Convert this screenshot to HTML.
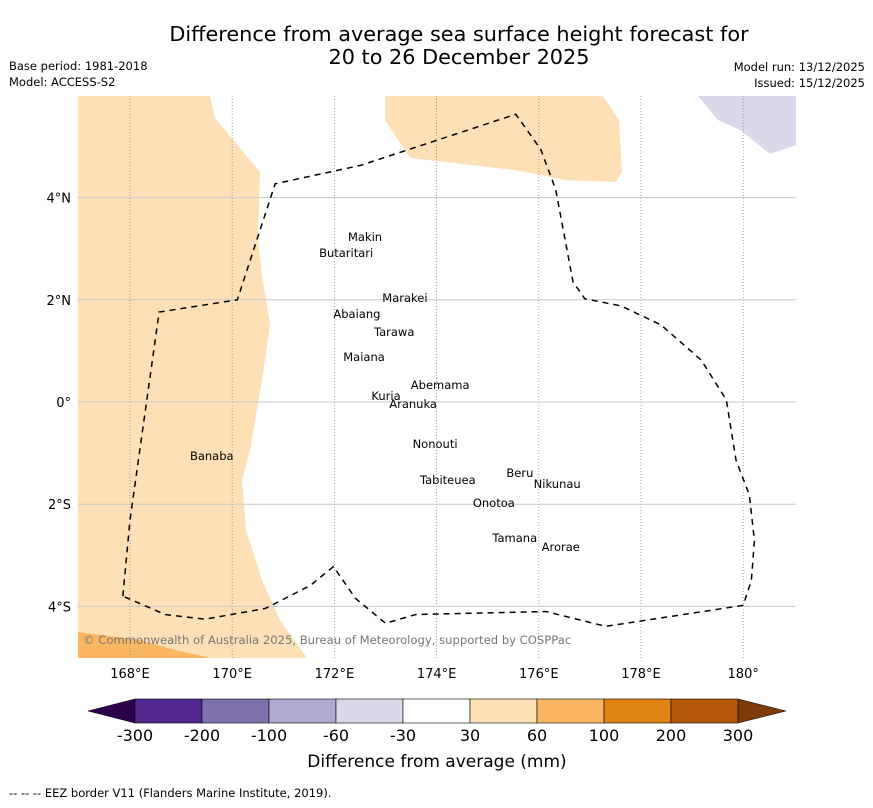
<!DOCTYPE html>
<html><head><meta charset="utf-8"><style>
body{margin:0;background:#fff;font-family:"DejaVu Sans","Liberation Sans",sans-serif;}
svg text{font-family:"DejaVu Sans","Liberation Sans",sans-serif;}
</style></head><body>
<svg id="map" width="873" height="804" viewBox="0 0 873 804" xmlns="http://www.w3.org/2000/svg">
<text x="459" y="41" text-anchor="middle" font-size="20.8">Difference from average sea surface height forecast for</text>
<text x="459" y="64" text-anchor="middle" font-size="20.8">20 to 26 December 2025</text>
<text x="9" y="70" font-size="11.5">Base period: 1981-2018</text>
<text x="9" y="86" font-size="11.5">Model: ACCESS-S2</text>
<text x="865" y="71" font-size="11.5" text-anchor="end">Model run: 13/12/2025</text>
<text x="865" y="87" font-size="11.5" text-anchor="end">Issued: 15/12/2025</text>
<g id="plot"></g>
<g id="cbar"></g>
<text x="437" y="767" text-anchor="middle" font-size="17">Difference from average (mm)</text>
<text x="9" y="797" font-size="11.5">--  --  -- EEZ border V11 (Flanders Marine Institute, 2019).</text>
</svg>
<script>
const NS="http://www.w3.org/2000/svg";
const lonTicks=[168,170,172,174,176,178,180];
const lonLabels=["168°E","170°E","172°E","174°E","176°E","178°E","180°"];
const latTicks=[4,2,0,-2,-4];
const latLabels=["4°N","2°N","0°","2°S","4°S"];
const eezLon=[167.86,168.0,168.57,170.10,170.84,172.51,175.55,176.04,176.33,176.67,176.90,177.61,178.39,179.18,179.67,179.86,180.12,180.22,180.16,180.0,177.31,176.14,173.59,173.0,172.41,171.98,171.53,170.65,169.47,168.69,167.86];
const eezLat=[-3.80,-2.31,1.76,2.0,4.27,4.63,5.63,4.94,4.16,2.35,2.02,1.88,1.51,0.82,0.04,-1.14,-1.82,-2.71,-3.49,-3.98,-4.39,-4.10,-4.16,-4.33,-3.84,-3.22,-3.59,-4.04,-4.25,-4.16,-3.80];
const islandNames=["Makin","Butaritari","Marakei","Abaiang","Tarawa","Maiana","Abemama","Kuria","Aranuka","Nonouti","Banaba","Beru","Nikunau","Tabiteuea","Onotoa","Tamana","Arorae"];
const islandLon=[172.60,172.23,173.38,172.44,173.17,172.58,174.07,173.01,173.54,173.97,169.60,175.63,176.36,174.22,175.12,175.53,176.43];
const islandLat=[3.23,2.92,2.04,1.72,1.37,0.88,0.33,0.12,-0.04,-0.82,-1.06,-1.39,-1.60,-1.53,-1.98,-2.66,-2.84];
const cbLabels=["-300","-200","-100","-60","-30","30","60","100","200","300"];
const cbColors=["#54278f","#7f71ab","#b0a9d0","#d9d9ea","#ffffff","#fde0b5","#fbb661","#e08214","#b35806"];
const x=lon=>130+(lon-168)*51.1;
const y=lat=>402-lat*51.1;
function el(t,a,p){const e=document.createElementNS(NS,t);for(const k in a)e.setAttribute(k,a[k]);p.appendChild(e);return e;}
const plot=document.getElementById('plot');
const fills=[["#fde0b5","78,96 210,96 215,118 260,172 258,240 262,275 270,325 262,380 250,450 242,480 246,530 262,580 280,620 307,658 78,658","anomaly-30-60-west"],
["#fbb661","78,632 140,640 175,650 210,658 78,658","anomaly-60-100-southwest"],
["#fde0b5","385,96 603,96 619,120 622,172 616,182 565,180 515,170 410,158 385,120","anomaly-30-60-north"],
["#d9d9ea","698,96 796,96 796,145 770,154 740,130 718,120","anomaly-neg-northeast"]];
fills.forEach(f=>{const p=el('polygon',{points:f[1],fill:f[0]},plot);

});
lonTicks.forEach((v,i)=>{const l=el('line',{x1:x(v),x2:x(v),y1:96,y2:658,stroke:'#888','stroke-width':0.8,'stroke-dasharray':'1,2'},plot);


const t=el('text',{x:x(v),y:678,'text-anchor':'middle','font-size':13},plot);t.textContent=lonLabels[i];

});
latTicks.forEach((v,i)=>{const l=el('line',{x1:78,x2:796,y1:y(v),y2:y(v),stroke:'#c8c8c8','stroke-width':1},plot);


const t=el('text',{x:71,y:y(v)+5,'text-anchor':'end','font-size':13},plot);t.textContent=latLabels[i];

});
const pts=eezLon.map((v,i)=>x(v)+','+y(eezLat[i])).join(' ');
const eez=el('polyline',{points:pts,fill:'none',stroke:'#000','stroke-width':1.5,'stroke-dasharray':'6,5'},plot);


islandNames.forEach((n,i)=>{const t=el('text',{x:x(islandLon[i]),y:y(islandLat[i])+4,'text-anchor':'middle','font-size':11.5},plot);t.textContent=n;

});
const cp=el('text',{x:83,y:644,'font-size':11.6,fill:'#777'},plot);cp.textContent="© Commonwealth of Australia 2025, Bureau of Meteorology, supported by COSPPac";


const cb=document.getElementById('cbar');
const c0=135,cw=67,cy=699,ch=24;
const lt=el('polygon',{points:`88,${cy+ch/2} ${c0},${cy} ${c0},${cy+ch}`,fill:'#2d004b',stroke:'#000','stroke-width':0.5},cb);


const rt=el('polygon',{points:`${c0+9*cw},${cy} 786,${cy+ch/2} ${c0+9*cw},${cy+ch}`,fill:'#7f3b08',stroke:'#000','stroke-width':0.5},cb);


cbColors.forEach((c,i)=>{const r=el('rect',{x:c0+i*cw,y:cy,width:cw,height:ch,fill:c,stroke:'#000','stroke-width':0.6},cb);

});
cbLabels.forEach((s,i)=>{const t=el('text',{x:c0+i*cw,y:741,'text-anchor':'middle','font-size':16},cb);t.textContent=s;

});
</script>
</body></html>
